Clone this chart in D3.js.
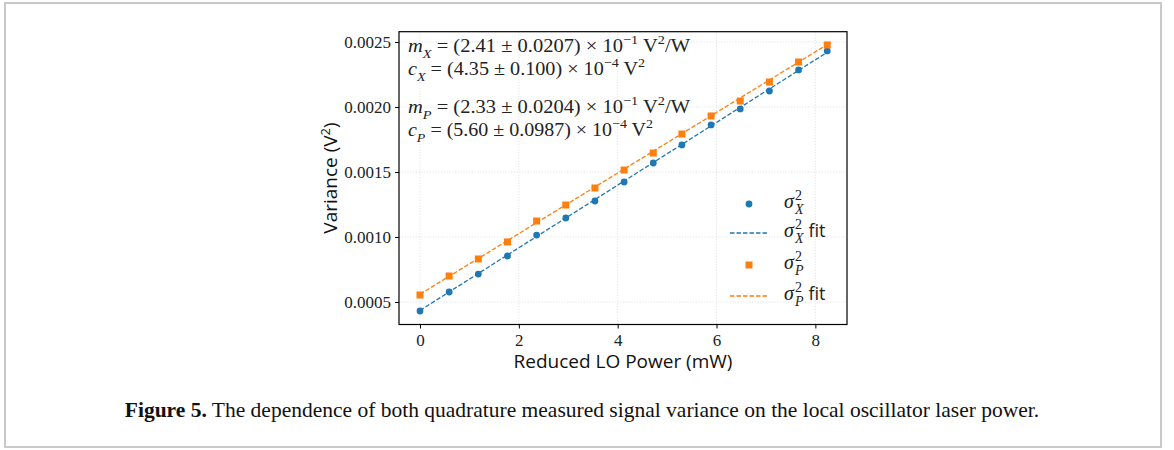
<!DOCTYPE html>
<html>
<head>
<meta charset="utf-8">
<script src="https://cdn.jsdelivr.net/npm/d3@7"></script>
<style>
  body { margin: 0; background: #fff; }
  svg { display: block; }
</style>
</head>
<body>
<svg id="chart" width="1174" height="450"></svg>
<script>
// LO power (mW) for each measurement
const powerMW = [0, 0.59, 1.18, 1.77, 2.36, 2.95, 3.54, 4.13, 4.72, 5.30, 5.89, 6.48, 7.07, 7.66, 8.24];
// measured variances (V^2)
const varX = [0.000431, 0.000577, 0.000715, 0.000854, 0.001015, 0.001146, 0.001277, 0.001423,
              0.001569, 0.001708, 0.001862, 0.001985, 0.002123, 0.002285, 0.002431];
const varP = [0.000554, 0.000700, 0.000831, 0.000962, 0.001123, 0.001246, 0.001377, 0.001515,
              0.001646, 0.001792, 0.001931, 0.002046, 0.002192, 0.002346, 0.002477];
// fitted line end points
const fitPower = [0, 8.24];
const fitX = [0.000435, 0.002421];
const fitP = [0.000560, 0.002480];

const xTicks = [0, 2, 4, 6, 8];
const yTicks = [0.0005, 0.0010, 0.0015, 0.0020, 0.0025];

const blue = '#1f77b4', orange = '#ff7f0e';
const serif = '"Liberation Serif", "DejaVu Serif", serif';
const sans = '"Open Sans", "DejaVu Sans", sans-serif';

const svg = d3.select('#chart');

// outer figure frame
svg.append('rect')
    .attr('x', 5).attr('y', 3)
    .attr('width', 1156).attr('height', 444)
    .attr('fill', 'none')
    .attr('stroke', '#c8c8c8')
    .attr('stroke-width', 2);

const plot = { left: 399, right: 847, top: 31.7, bottom: 324.5 };

const x = d3.scaleLinear().domain([-0.425, 8.64]).range([plot.left, plot.right]);
const y = d3.scaleLinear().domain([0.000327, 0.002579]).range([plot.bottom, plot.top]);

// grid
const grid = svg.append('g')
    .attr('stroke', '#dcdcdc')
    .attr('stroke-width', 0.8)
    .attr('stroke-dasharray', '1.2,1.6');
grid.selectAll('.gx')
    .data(xTicks)
    .join('line')
    .attr('x1', d => x(d)).attr('x2', d => x(d))
    .attr('y1', plot.top).attr('y2', plot.bottom);
grid.selectAll('.gy')
    .data(yTicks)
    .join('line')
    .attr('x1', plot.left).attr('x2', plot.right)
    .attr('y1', d => y(d)).attr('y2', d => y(d));

// axes
const xAxis = svg.append('g')
    .attr('transform', `translate(0,${plot.bottom})`)
    .call(d3.axisBottom(x).tickValues(xTicks).tickSize(4).tickPadding(5).tickFormat(d3.format('d')));
const yAxis = svg.append('g')
    .attr('transform', `translate(${plot.left},0)`)
    .call(d3.axisLeft(y).tickValues(yTicks).tickSize(4).tickPadding(4).tickFormat(d3.format('.4f')));

[xAxis, yAxis].forEach(a => {
    a.select('.domain').remove();
    a.selectAll('line').attr('stroke', '#000').attr('stroke-width', 1);
    a.selectAll('text')
        .style('font-family', serif)
        .style('font-size', '17px')
        .attr('fill', '#222');
});

// fit lines
const line = d3.line().x(d => x(d[0])).y(d => y(d[1]));
[[fitX, blue], [fitP, orange]].forEach(([vals, col]) => {
    svg.append('path')
        .datum(fitPower.map((p, i) => [p, vals[i]]))
        .attr('d', line)
        .attr('fill', 'none')
        .attr('stroke', col)
        .attr('stroke-width', 1.3)
        .attr('stroke-dasharray', '4.5,2');
});

// markers
svg.append('g').selectAll('circle')
    .data(powerMW.map((p, i) => [p, varX[i]]))
    .join('circle')
    .attr('cx', d => x(d[0]))
    .attr('cy', d => y(d[1]))
    .attr('r', 3.4)
    .attr('fill', blue);

svg.append('g').selectAll('rect')
    .data(powerMW.map((p, i) => [p, varP[i]]))
    .join('rect')
    .attr('x', d => x(d[0]) - 3.5)
    .attr('y', d => y(d[1]) - 3.5)
    .attr('width', 7).attr('height', 7)
    .attr('fill', orange);

// frame
svg.append('rect')
    .attr('x', plot.left).attr('y', plot.top)
    .attr('width', plot.right - plot.left)
    .attr('height', plot.bottom - plot.top)
    .attr('fill', 'none')
    .attr('stroke', '#000')
    .attr('stroke-width', 1.2);

// math-ish text helper: segments [text, italic, 'sub'|'sup'|null, dx]
function mathText(g, px, py, segs, size) {
    const t = g.append('text')
        .attr('x', px).attr('y', py)
        .style('font-family', serif)
        .style('font-size', size + 'px')
        .attr('fill', '#222');
    let off = 0;
    segs.forEach(([txt, it, pos, dx]) => {
        let target = 0;
        if (pos === 'sub') target = size * 0.3;
        if (pos === 'sup') target = -size * 0.42;
        t.append('tspan')
            .attr('dy', target - off)
            .attr('dx', dx || null)
            .style('font-style', it ? 'italic' : 'normal')
            .style('font-size', pos ? (size * 0.7) + 'px' : null)
            .text(txt);
        off = target;
    });
    return t;
}

const ann = svg.append('g');
const fs = 18.5;
mathText(ann, 408, 52, [['m', true], ['X', true, 'sub'], [' = (2.41 ± 0.0207) × 10'], ['−1', false, 'sup'], [' V'], ['2', false, 'sup'], ['/W']], fs)
    .attr('textLength', 282).attr('lengthAdjust', 'spacingAndGlyphs');
mathText(ann, 408, 75, [['c', true], ['X', true, 'sub'], [' = (4.35 ± 0.100) × 10'], ['−4', false, 'sup'], [' V'], ['2', false, 'sup']], fs)
    .attr('textLength', 237).attr('lengthAdjust', 'spacingAndGlyphs');
mathText(ann, 408, 113, [['m', true], ['P', true, 'sub'], [' = (2.33 ± 0.0204) × 10'], ['−1', false, 'sup'], [' V'], ['2', false, 'sup'], ['/W']], fs)
    .attr('textLength', 282).attr('lengthAdjust', 'spacingAndGlyphs');
mathText(ann, 408, 136, [['c', true], ['P', true, 'sub'], [' = (5.60 ± 0.0987) × 10'], ['−4', false, 'sup'], [' V'], ['2', false, 'sup']], fs)
    .attr('textLength', 245).attr('lengthAdjust', 'spacingAndGlyphs');

// legend
const legendItems = [
    { sub: 'X', fit: false, color: blue, kind: 'circle', yy: 204 },
    { sub: 'X', fit: true, color: blue, kind: 'line', yy: 233 },
    { sub: 'P', fit: false, color: orange, kind: 'square', yy: 265 },
    { sub: 'P', fit: true, color: orange, kind: 'line', yy: 296 }
];
const legend = svg.append('g');
const lfs = 20;
legendItems.forEach(d => {
    if (d.kind === 'circle') {
        legend.append('circle').attr('cx', 749).attr('cy', d.yy).attr('r', 3.4).attr('fill', d.color);
    } else if (d.kind === 'square') {
        legend.append('rect').attr('x', 745.5).attr('y', d.yy - 3.5).attr('width', 7).attr('height', 7).attr('fill', d.color);
    } else {
        legend.append('line')
            .attr('x1', 730).attr('x2', 769)
            .attr('y1', d.yy).attr('y2', d.yy)
            .attr('stroke', d.color)
            .attr('stroke-width', 1.3)
            .attr('stroke-dasharray', '4.5,2');
    }
    // superscript and subscript stacked
    const segs = [['σ', true], ['2', false, 'sup', 1], [d.sub, true, 'sub', -lfs * 0.7 * 0.5]];
    const t = mathText(legend, 784, d.yy + 4, segs, lfs);
    if (d.fit) {
        t.append('tspan')
            .attr('dy', -lfs * 0.3)
            .attr('dx', 5)
            .style('font-family', sans)
            .style('font-size', '18px')
            .text('fit');
    }
});

// axis labels
svg.append('text')
    .attr('transform', 'translate(337,178) rotate(-90)')
    .attr('text-anchor', 'middle')
    .style('font-family', sans)
    .style('font-size', '19px')
    .attr('fill', '#111')
    .text('Variance (V')
    .append('tspan').attr('dy', -7).style('font-size', '13px').text('2')
    .select(function() { return this.parentNode; })
    .append('tspan').attr('dy', 7).text(')');

svg.append('text')
    .attr('x', 623).attr('y', 368)
    .attr('text-anchor', 'middle')
    .style('font-family', sans)
    .style('font-size', '19px')
    .attr('fill', '#111')
    .text('Reduced LO Power (mW)');

// caption
const cap = svg.append('text')
    .attr('x', 582).attr('y', 417)
    .attr('text-anchor', 'middle')
    .style('font-family', serif)
    .style('font-size', '21.5px')
    .attr('fill', '#111');
cap.append('tspan').style('font-weight', 'bold').text('Figure 5.');
cap.append('tspan').text(' The dependence of both quadrature measured signal variance on the local oscillator laser power.');
</script>
</body>
</html>
